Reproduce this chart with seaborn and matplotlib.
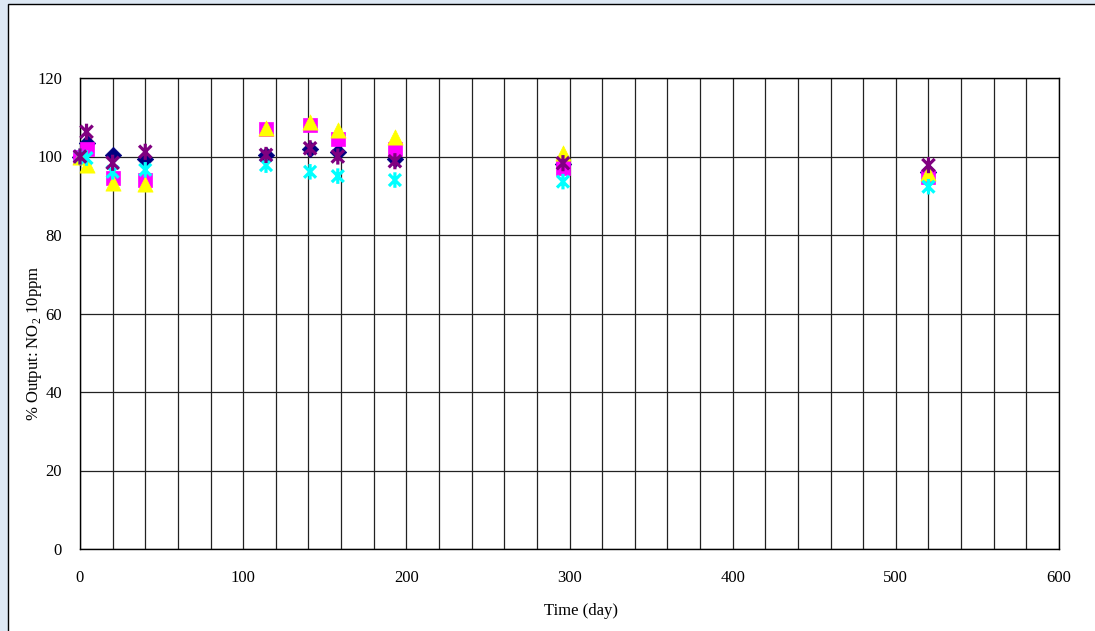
import numpy as np
import pandas as pd
import matplotlib
matplotlib.use("Agg")
import matplotlib.pyplot as plt
from matplotlib.path import Path
from matplotlib.patches import Rectangle
import seaborn as sns

# ---- data ----
days = [0, 4, 20, 40, 114, 141, 158, 193, 296, 520]
series_names = ["S1", "S2", "S3", "S4", "S5"]
s1_navy = [100, 103.5, 100.5, 99.4, 100.3, 102.0, 101.2, 99.4, 98.0, 96.0]
s2_magenta = [100, 102.0, 94.4, 94.0, 106.9, 108.0, 104.4, 101.8, 97.0, 94.9]
s3_yellow = [100, 97.8, 93.2, 93.0, 107.2, 108.9, 106.8, 105.0, 100.8, 95.7]
s4_cyan = [100, 99.6, 96.1, 96.6, 97.8, 96.1, 95.0, 94.0, 93.6, 92.3]
s5_purple = [100, 106.3, 98.4, 101.2, 100.4, 102.1, 100.0, 98.8, 98.3, 97.8]

x_ticks = [0, 100, 200, 300, 400, 500, 600]
y_ticks = [0, 20, 40, 60, 80, 100, 120]

sns.set_theme(style="white")
plt.rcParams["font.family"] = ["Liberation Serif", "DejaVu Serif"]
plt.rcParams["mathtext.fontset"] = "custom"
plt.rcParams["mathtext.rm"] = "Liberation Serif"

fig = plt.figure(figsize=(10.95, 6.31), dpi=100)
fig.patch.set_facecolor("#dde8f4")
fig.patches.append(Rectangle((7.5 / 1095, -0.01), 1.02, (631 - 3.5) / 631 + 0.01,
                             transform=fig.transFigure, facecolor="white",
                             edgecolor="black", linewidth=1.0, zorder=-10))

ax = fig.add_axes([80 / 1095, (631 - 549) / 631, 979 / 1095, 471 / 631])
ax.set_facecolor("white")

star = Path([(-1, -1), (1, 1), (-1, 1), (1, -1), (0, -1.3), (0, 1.3)],
            [Path.MOVETO, Path.LINETO, Path.MOVETO, Path.LINETO, Path.MOVETO, Path.LINETO])

specs = [
    (s1_navy, "#000080", "D", 70, True),
    (s2_magenta, "#ff00ff", "s", 90, True),
    (s3_yellow, "#ffff00", "^", 120, True),
    (s4_cyan, "#00ffff", star, 125, False),
    (s5_purple, "#800080", star, 135, False),
]
for name, (vals, col, mk, sz, filled) in zip(series_names, specs):
    df = pd.DataFrame({"day": days, "value": vals})
    if filled:
        sns.scatterplot(data=df, x="day", y="value", ax=ax, color=col, marker=mk,
                        s=sz, edgecolor=col, linewidth=0.5, zorder=5, legend=False,
                        clip_on=False)
    else:
        sns.scatterplot(data=df, x="day", y="value", ax=ax, marker=mk, s=sz,
                        color=col, edgecolor=col, linewidth=2.3, zorder=5,
                        legend=False, clip_on=False)
        coll = ax.collections[-1]
        coll.set_facecolor("none")
        coll.set_edgecolor(col)

ax.set_xlim(0, 600)
ax.set_ylim(0, 120)
ax.set_xticks(x_ticks)
ax.set_yticks(y_ticks)
ax.set_xticks(np.arange(0, 601, 20), minor=True)
ax.grid(True, which="major", axis="y", color="#222222", linewidth=0.9)
ax.grid(True, which="both", axis="x", color="#222222", linewidth=0.9)
ax.set_axisbelow(True)
for sp in ax.spines.values():
    sp.set_color("black")
    sp.set_linewidth(1.0)
ax.tick_params(axis="both", which="both", length=0, labelsize=12, colors="black")
ax.tick_params(axis="x", pad=15)
ax.tick_params(axis="y", pad=13)
ax.set_xlabel("Time (day)", fontsize=12, color="black")
ax.set_ylabel("% Output: NO$_2$ 10ppm", fontsize=12, color="black")
ax.xaxis.label.set_va("center")
ax.yaxis.label.set_va("center")
ax.xaxis.set_label_coords((581 - 80) / 979, (549 - 611) / 471)
ax.yaxis.set_label_coords((35 - 80) / 979, (549 - 343) / 471)

fig.savefig("out.png", dpi=100, facecolor=fig.get_facecolor())
